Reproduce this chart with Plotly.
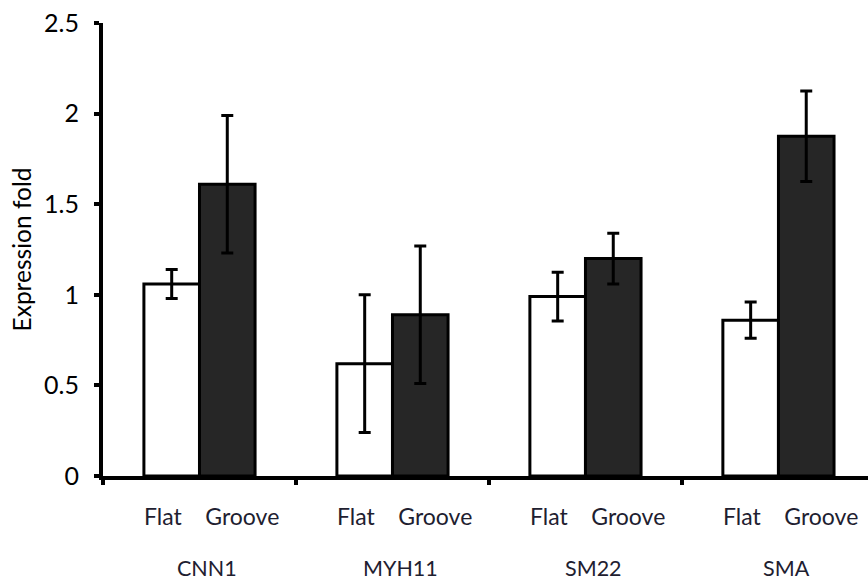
import plotly.graph_objects as go

# Relative expression of smooth-muscle markers on flat vs. grooved substrates
genes = ["CNN1", "MYH11", "SM22", "SMA"]
conditions = ["Flat", "Groove"]

flat_mean = [1.06, 0.62, 0.99, 0.86]
flat_err = [0.08, 0.38, 0.135, 0.10]
groove_mean = [1.61, 0.89, 1.20, 1.875]
groove_err = [0.38, 0.38, 0.14, 0.25]

y_ticks = [0, 0.5, 1, 1.5, 2, 2.5]
y_ticktext = ["0", "0.5", "1", "1.5", "2", "2.5"]

FONT = "Lato, Open Sans, DejaVu Sans, sans-serif"
LABEL_COLOR = "#1e2030"

x_pos = list(range(len(genes)))

fig = go.Figure()
fig.add_trace(go.Bar(
    x=x_pos, y=flat_mean, name=conditions[0],
    marker=dict(color="white", line=dict(color="black", width=3)),
    error_y=dict(type="data", array=flat_err, visible=True,
                 color="black", thickness=3, width=6),
))
fig.add_trace(go.Bar(
    x=x_pos, y=groove_mean, name=conditions[1],
    marker=dict(color="#262626", line=dict(color="black", width=3)),
    error_y=dict(type="data", array=groove_err, visible=True,
                 color="black", thickness=3, width=6),
))

# Condition labels under each pair, gene names below them
pair_label = conditions[0] + "&nbsp;&nbsp;&nbsp;&nbsp;" + conditions[1]
for i, g in enumerate(genes):
    fig.add_annotation(x=i, xref="x", y=0, yref="paper", yanchor="middle",
                       xshift=12, yshift=-40, text=pair_label, showarrow=False,
                       font=dict(family=FONT, size=23, color=LABEL_COLOR))
    fig.add_annotation(x=i, xref="x", y=0, yref="paper", yanchor="middle",
                       xshift=8, yshift=-92, text=g, showarrow=False,
                       font=dict(family=FONT, size=21.5, color=LABEL_COLOR))

fig.update_layout(
    width=868, height=581,
    margin=dict(l=103, r=0, t=23, b=105),
    barmode="group", bargap=0.424, bargroupgap=0,
    showlegend=False,
    plot_bgcolor="white", paper_bgcolor="white",
    font=dict(family=FONT, color="black"),
    xaxis=dict(
        range=[-0.5, 3.464], showgrid=False, zeroline=False,
        showline=True, linecolor="black", linewidth=4,
        tickmode="array", tickvals=[-0.5, 0.5, 1.5, 2.5, 3.5],
        ticks="outside", ticklen=5, tickwidth=4, tickcolor="black",
        showticklabels=False,
    ),
    yaxis=dict(
        range=[0, 2.5], showgrid=False, zeroline=False,
        showline=True, linecolor="black", linewidth=4,
        tickmode="array", tickvals=y_ticks, ticktext=y_ticktext,
        ticks="outside", ticklen=5, tickwidth=4, tickcolor="black",
        tickfont=dict(family=FONT, size=25, color="black"),
        ticklabelstandoff=10,
        title=dict(text="Expression fold", standoff=7,
                   font=dict(family=FONT, size=24.5, color="black")),
    ),
)

fig.write_html("out.html")
